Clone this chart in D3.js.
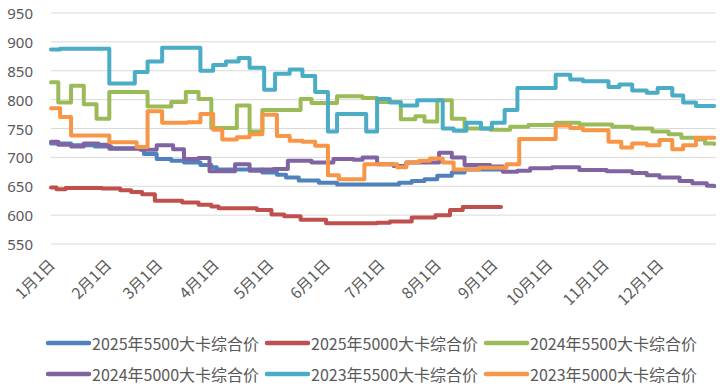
<!DOCTYPE html>
<html>
<head>
<meta charset="utf-8">
<script src="https://cdn.jsdelivr.net/npm/d3@7/dist/d3.min.js"></script>
<style>
html,body{margin:0;padding:0;background:#fff;}
svg{display:block;}
</style>
</head>
<body>
<svg id="chart" width="726" height="390"></svg>
<script>
// ---------- DATA ----------
const seriesNames = ["2025年5500大卡综合价","2025年5000大卡综合价","2024年5500大卡综合价","2024年5000大卡综合价","2023年5500大卡综合价","2023年5000大卡综合价"];
const seriesColors = ["#4F81BD","#C0504D","#9BBB59","#8064A2","#4BACC6","#F79646"];
const yTicks = [550,600,650,700,750,800,850,900,950];
const monthLabels = ["1月1日","2月1日","3月1日","4月1日","5月1日","6月1日","7月1日","8月1日","9月1日","10月1日","11月1日","12月1日"];
const monthStarts = ["01-01","02-01","03-01","04-01","05-01","06-01","07-01","08-01","09-01","10-01","11-01","12-01"];

const s2025_5500 = [["01-01",724],["01-12",721],["01-25",719],["02-03",716],["02-21",706],["02-28",697],["03-08",694],["03-15",691],["03-24",687],["03-30",683],["04-02",679],["04-27",674],["05-05",670],["05-10",665],["05-17",660],["05-28",656],["06-07",653],["07-11",656],["07-18",659],["07-25",662],["08-01",668],["08-09",674],["08-16",679],["09-05",679]];
const s2025_5000 = [["01-01",648],["01-04",645],["01-09",647],["01-29",646],["02-08",643],["02-14",640],["02-20",636],["02-27",625],["03-14",622],["03-23",618],["03-30",615],["04-03",612],["04-24",609],["05-02",601],["05-09",598],["05-18",592],["06-01",586],["06-29",587],["07-06",589],["07-18",596],["07-31",600],["08-08",609],["08-15",614],["09-05",614]];
const s2024_5500 = [["01-01",830],["01-05",795],["01-12",824],["01-19",792],["01-26",767],["02-02",813],["02-23",788],["03-08",796],["03-16",813],["03-23",801],["03-30",751],["04-13",790],["04-20",745],["04-27",782],["05-18",801],["05-24",794],["06-07",806],["06-21",803],["06-29",796],["07-12",766],["07-20",771],["07-25",762],["08-01",799],["08-09",767],["08-16",750],["08-30",748],["09-10",753],["09-20",756],["10-05",760],["10-18",757],["11-05",753],["11-16",750],["11-27",745],["12-06",740],["12-13",734],["12-21",731],["12-26",724],["12-31",723]];
const s2024_5000 = [["01-01",727],["01-05",722],["01-12",719],["01-19",724],["01-27",722],["02-02",715],["02-19",713],["02-28",721],["03-09",714],["03-15",697],["03-23",699],["03-29",676],["04-12",688],["04-20",677],["04-27",679],["05-03",680],["05-11",694],["05-24",691],["06-05",697],["06-16",696],["06-21",700],["06-29",688],["07-08",685],["07-15",691],["08-02",708],["08-09",700],["08-16",687],["08-30",684],["09-06",675],["09-14",677],["09-21",681],["10-03",683],["10-18",678],["11-02",676],["11-16",673],["11-24",669],["12-01",665],["12-12",659],["12-19",655],["12-27",651],["12-31",650]];
const s2023_5500 = [["01-01",887],["01-06",888],["02-02",828],["02-16",848],["02-23",866],["03-03",890],["03-24",850],["03-31",860],["04-07",866],["04-14",872],["04-20",855],["04-28",817],["05-04",845],["05-12",852],["05-19",841],["05-26",813],["06-02",745],["06-07",775],["06-23",745],["06-29",801],["07-06",795],["07-12",790],["07-21",799],["08-04",750],["08-10",746],["08-17",760],["08-25",750],["08-31",760],["09-07",782],["09-14",820],["10-05",843],["10-13",835],["10-20",832],["11-03",822],["11-09",826],["11-16",816],["11-24",812],["11-30",820],["12-08",807],["12-14",795],["12-21",789],["12-31",789]];
const s2023_5000 = [["01-01",785],["01-06",770],["01-12",738],["02-02",726],["02-17",718],["02-23",780],["03-03",760],["03-17",761],["03-24",775],["03-31",748],["04-05",731],["04-13",735],["04-20",740],["04-27",774],["05-05",737],["05-12",729],["05-19",727],["05-26",720],["06-02",669],["06-08",662],["06-22",688],["07-10",683],["07-15",691],["07-22",694],["07-28",698],["08-04",691],["08-10",679],["08-24",682],["09-08",688],["09-15",732],["10-05",755],["10-13",751],["10-20",747],["11-03",727],["11-10",717],["11-16",724],["11-24",721],["12-01",730],["12-08",714],["12-14",721],["12-21",734],["12-31",734]];

const allSeries = [s2025_5500, s2025_5000, s2024_5500, s2024_5000, s2023_5500, s2023_5000];

// ---------- CHART ----------
const parse = d3.timeParse("%Y-%m-%d");
const toDate = md => parse("2023-" + md);

const svg = d3.select("#chart");
const x = d3.scaleTime().domain([parse("2023-01-01"), parse("2024-01-01")]).range([51, 716]);
const y = d3.scaleLinear().domain([550, 950]).range([244, 13]);

// gridlines
svg.append("g").selectAll("line").data(yTicks).join("line")
  .attr("x1", 51).attr("x2", 716)
  .attr("y1", d => y(d)).attr("y2", d => y(d))
  .attr("stroke", "#d9d9d9").attr("stroke-width", 1);

// y labels
svg.append("g").selectAll("text").data(yTicks).join("text")
  .attr("x", 33).attr("y", d => y(d))
  .attr("text-anchor", "end").attr("dominant-baseline", "central")
  .attr("font-family", "'Noto Sans', 'Liberation Sans', sans-serif")
  .attr("font-size", "15px").attr("fill", "#595959")
  .text(d => d);

// x labels rotated
svg.append("g").selectAll("text").data(monthStarts).join("text")
  .attr("transform", (d) => `translate(${x(toDate(d)) + 5},${266}) rotate(-45)`)
  .attr("text-anchor", "end")
  .attr("font-family", "'Noto Sans CJK SC', sans-serif")
  .attr("font-size", "15.5px").attr("fill", "#595959")
  .text((d, i) => monthLabels[i]);

// lines
const line = d3.line()
  .x(d => x(toDate(d[0])))
  .y(d => y(d[1]))
  .curve(d3.curveStepAfter);

svg.append("g").selectAll("path").data(allSeries).join("path")
  .attr("d", d => line(d))
  .attr("fill", "none")
  .attr("stroke", (d, i) => seriesColors[i])
  .attr("stroke-width", 4)
  .attr("stroke-linejoin", "round")
  .attr("stroke-linecap", "round");

// legend
const legX = [48, 267, 486];
const legY = [343, 374];
const leg = svg.append("g").selectAll("g").data(seriesNames).join("g")
  .attr("transform", (d, i) => `translate(${legX[i % 3]},${legY[Math.floor(i / 3)]})`);
leg.append("line").attr("x1", 0).attr("x2", 41).attr("y1", 0).attr("y2", 0)
  .attr("stroke", (d, i) => seriesColors[i]).attr("stroke-width", 4.5).attr("stroke-linecap", "round");
leg.append("text").attr("x", 44).attr("y", 0)
  .attr("dominant-baseline", "central")
  .attr("font-family", "'Noto Sans CJK SC', sans-serif")
  .attr("font-size", "16px").attr("fill", "#595959")
  .text(d => d);
</script>
</body>
</html>
